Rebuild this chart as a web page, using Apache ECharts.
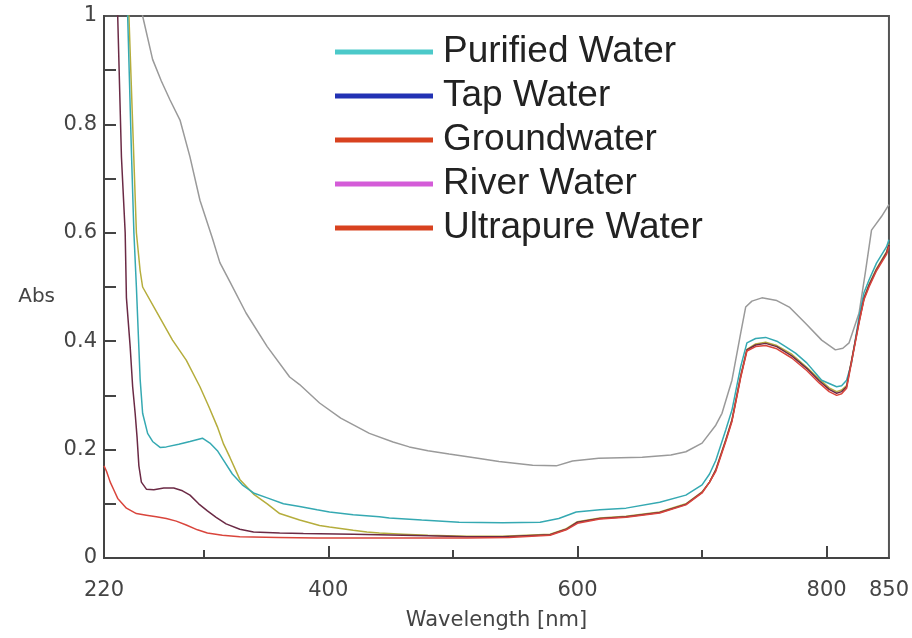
<!DOCTYPE html>
<html>
<head>
<meta charset="utf-8">
<script src="https://cdn.jsdelivr.net/npm/echarts@6/dist/echarts.min.js"></script>
<style>
  html, body { margin: 0; padding: 0; background: #fff; }
  #chart { width: 912px; height: 638px; }
</style>
</head>
<body>
<div id="chart"></div>
<script>
// Absorbance spectra of water samples, wavelength in nm vs absorbance
const seriesNames = ['Purified Water', 'Tap Water', 'Groundwater', 'River Water', 'Ultrapure Water'];

const purifiedNm  = [236, 239, 242, 244, 246, 249, 251, 255, 259, 265, 270, 280, 289, 299, 305, 311, 316, 323, 331, 340, 351, 364, 377, 391, 401, 420, 441, 449, 475, 505, 540, 570, 585, 599, 618, 639, 666, 687, 700, 706, 711, 719, 724, 731, 736, 743, 751, 760, 767, 775, 784, 796, 802, 808, 812, 816, 820, 826, 830, 834, 840, 848, 850];
const purifiedAbs = [1.1, 1.0, 0.75, 0.6, 0.5, 0.33, 0.267, 0.23, 0.215, 0.204, 0.205, 0.21, 0.215, 0.221, 0.212, 0.198, 0.18, 0.155, 0.135, 0.12, 0.111, 0.1, 0.095, 0.089, 0.085, 0.08, 0.076, 0.074, 0.07, 0.066, 0.065, 0.066, 0.073, 0.085, 0.089, 0.092, 0.103, 0.116, 0.135, 0.155, 0.18, 0.236, 0.273, 0.353, 0.397, 0.405, 0.407, 0.4, 0.39, 0.378, 0.36, 0.328, 0.322, 0.316, 0.318, 0.328, 0.36, 0.445, 0.49, 0.513, 0.544, 0.574, 0.587];

const tapNm  = [229, 231, 234, 237, 238, 241, 243, 245, 246.5, 248, 250, 254, 260, 268, 276, 283, 289, 296, 303, 310, 318, 329, 340, 361, 380, 420, 460, 480, 511, 540, 578, 591, 600, 618, 639, 666, 687, 700, 706, 711, 719, 724, 731, 736, 743, 751, 760, 772, 784, 794, 802, 808, 812, 816, 820, 826, 830, 834, 840, 848, 850];
const tapAbs = [1.15, 1.0, 0.74, 0.6, 0.48, 0.39, 0.316, 0.267, 0.224, 0.17, 0.14, 0.127, 0.126, 0.129, 0.129, 0.124, 0.116, 0.1, 0.087, 0.075, 0.063, 0.053, 0.048, 0.046, 0.045, 0.044, 0.042, 0.041, 0.039, 0.039, 0.043, 0.053, 0.066, 0.073, 0.076, 0.084, 0.099, 0.121, 0.14, 0.162, 0.217, 0.254, 0.335, 0.384, 0.393, 0.396, 0.39, 0.373, 0.35, 0.327, 0.311, 0.304, 0.307, 0.316, 0.364, 0.436, 0.479, 0.503, 0.532, 0.563, 0.578];

const groundNm  = [236, 240, 243, 246, 249, 251, 262, 275, 286, 297, 304, 311, 316, 321, 329, 340, 351, 361, 377, 393, 401, 420, 431, 441, 460, 480, 511, 540, 578, 591, 600, 618, 639, 666, 687, 700, 706, 711, 719, 724, 731, 736, 743, 751, 760, 772, 784, 794, 802, 808, 812, 816, 820, 826, 830, 834, 840, 848, 850];
const groundAbs = [1.1, 1.0, 0.8, 0.6, 0.53, 0.5, 0.455, 0.402, 0.365, 0.316, 0.28, 0.242, 0.21, 0.186, 0.145, 0.118, 0.1, 0.082, 0.07, 0.06, 0.057, 0.051, 0.048, 0.046, 0.044, 0.042, 0.04, 0.04, 0.044, 0.054, 0.067, 0.074, 0.077, 0.085, 0.1, 0.122, 0.14, 0.163, 0.218, 0.255, 0.336, 0.385, 0.395, 0.398, 0.392, 0.376, 0.352, 0.33, 0.314, 0.307, 0.31, 0.318, 0.365, 0.437, 0.48, 0.505, 0.534, 0.565, 0.58];

const riverNm  = [240, 251, 259, 266, 273, 281, 289, 297, 307, 313, 321, 334, 351, 369, 377, 393, 410, 433, 452, 465, 480, 497, 520, 537, 564, 583, 596, 617, 652, 675, 687, 700, 711, 716, 724, 731, 735, 740, 748, 760, 770, 783, 796, 807, 813, 818, 826, 831, 836, 844, 850];
const riverAbs = [1.15, 1.0, 0.92, 0.88, 0.845, 0.808, 0.74, 0.66, 0.59, 0.545, 0.51, 0.452, 0.39, 0.334, 0.32, 0.286, 0.258, 0.23, 0.214, 0.205, 0.198, 0.192, 0.184, 0.178, 0.171, 0.17, 0.179, 0.184, 0.186, 0.19, 0.196, 0.212, 0.245, 0.267, 0.328, 0.415, 0.463, 0.474, 0.48, 0.475, 0.463, 0.433, 0.402, 0.384, 0.387, 0.397, 0.452, 0.526, 0.605, 0.63, 0.652];

const ultraNm  = [220, 222, 225, 228, 231, 238, 246, 254, 262, 270, 278, 286, 295, 303, 315, 329, 360, 391, 430, 470, 511, 545, 578, 591, 600, 618, 639, 666, 687, 700, 706, 711, 719, 724, 731, 736, 743, 751, 760, 772, 784, 794, 802, 808, 812, 816, 820, 826, 830, 834, 840, 848, 850];
const ultraAbs = [0.17, 0.16, 0.14, 0.125, 0.11, 0.092, 0.082, 0.079, 0.076, 0.073, 0.068, 0.061, 0.052, 0.046, 0.042, 0.039, 0.038, 0.037, 0.037, 0.037, 0.037, 0.038, 0.042, 0.052, 0.064, 0.072, 0.075, 0.083, 0.098, 0.12, 0.14, 0.16, 0.215, 0.252, 0.333, 0.382, 0.39, 0.392, 0.386, 0.369, 0.346, 0.323, 0.307, 0.3, 0.303, 0.313, 0.362, 0.434, 0.477, 0.5, 0.53, 0.56, 0.575];

// Axis labels and ticks
const xLabelValues = [220, 400, 600, 800, 850];
const xMajorTicks = [400, 600, 800];
const xMinorTicks = [300, 500, 700];
const yLabelValues = [0, 0.2, 0.4, 0.6, 0.8, 1];
const yTickValues = [0.1, 0.2, 0.3, 0.4, 0.5, 0.6, 0.7, 0.8, 0.9];

// Trace colours on the plot and key colours in the legend
const traceColors = ['#35a9b2', '#6b2a45', '#b5ad3c', '#9a9a9a', '#d9453c'];
const keyColors = ['#4cc9c9', '#2232b4', '#d8421f', '#d45cd8', '#d8421f'];

const xs = [purifiedNm, tapNm, groundNm, riverNm, ultraNm];
const ys = [purifiedAbs, tapAbs, groundAbs, riverAbs, ultraAbs];

function pairs(a, b) { return a.map((v, i) => [v, b[i]]); }

const axisColor = '#444';
const axisFont = 'DejaVu Sans, Verdana, sans-serif';
const labelFont = { fontFamily: axisFont, fontSize: 21, color: '#444' };

const drawOrder = [3, 2, 0, 1, 4];
const series = drawOrder.map(i => ({
  name: seriesNames[i],
  type: 'line',
  xAxisIndex: 0,
  yAxisIndex: 0,
  data: pairs(xs[i], ys[i]),
  showSymbol: false,
  symbol: 'none',
  clip: true,
  lineStyle: { color: traceColors[i], width: 1.5 },
  itemStyle: { color: traceColors[i] },
  emphasis: { disabled: true },
  z: 3
}));

const chart = echarts.init(document.getElementById('chart'), null, { renderer: 'canvas' });
chart.setOption({
  animation: false,
  backgroundColor: '#fff',
  grid: {
    left: 104, top: 16, right: 22, bottom: 80,
    show: true, borderColor: '#555', borderWidth: 2, backgroundColor: 'transparent'
  },
  legend: {
    orient: 'vertical',
    left: 330,
    top: 25,
    icon: 'rect',
    itemWidth: 98,
    itemHeight: 5,
    itemGap: 0,
    selectedMode: false,
    textStyle: { fontFamily: 'Liberation Sans, Arial, sans-serif', fontSize: 37, color: '#222', lineHeight: 44, padding: [0, 0, 0, 5] },
    data: seriesNames.map((n, i) => ({ name: n, itemStyle: { color: keyColors[i] } }))
  },
  xAxis: [
    {
      type: 'value', min: 220, max: 850, position: 'bottom',
      name: 'Wavelength [nm]', nameLocation: 'middle', nameGap: 52,
      nameTextStyle: { fontFamily: axisFont, fontSize: 21, color: '#444' },
      axisLine: { show: true, lineStyle: { color: axisColor, width: 2 } },
      axisTick: { show: true, inside: true, length: 12, customValues: xMajorTicks, lineStyle: { color: axisColor, width: 2 } },
      axisLabel: { show: true, customValues: xLabelValues, margin: 22, ...labelFont },
      splitLine: { show: false }
    },
    {
      type: 'value', min: 220, max: 850, position: 'bottom', offset: 0,
      axisLine: { show: false },
      axisTick: { show: true, inside: true, length: 8, customValues: xMinorTicks, lineStyle: { color: axisColor, width: 2 } },
      axisLabel: { show: false },
      splitLine: { show: false }
    }
  ],
  yAxis: [
    {
      type: 'value', min: 0, max: 1, position: 'left',
      name: 'Abs', nameLocation: 'middle', nameRotate: 0, nameGap: 49,
      nameTextStyle: { fontFamily: axisFont, fontSize: 20, color: '#444', verticalAlign: 'top' },
      axisLine: { show: true, lineStyle: { color: axisColor, width: 2 } },
      axisTick: { show: true, inside: true, length: 12, customValues: yTickValues, lineStyle: { color: axisColor, width: 2 } },
      axisLabel: { show: true, customValues: yLabelValues, margin: 7, ...labelFont },
      splitLine: { show: false }
    }
  ],
  series: series
});
</script>
</body>
</html>
